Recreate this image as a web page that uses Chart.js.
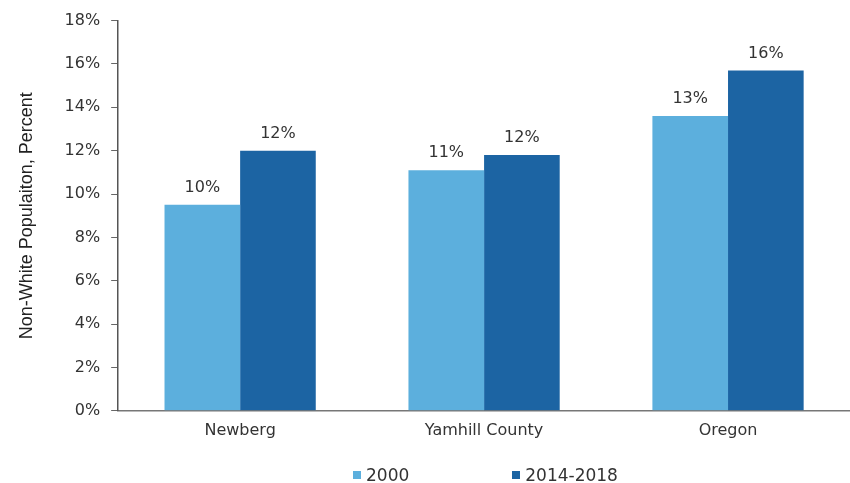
<!DOCTYPE html>
<html>
<head>
<meta charset="utf-8">
<script src="https://cdn.jsdelivr.net/npm/chart.js@4/dist/chart.umd.min.js"></script>
<style>
  html, body { margin: 0; padding: 0; background: #fff; }
  #wrap { position: relative; width: 850px; height: 483px; }
  #legend {
    position: absolute; left: 353px; top: 465px;
    display: flex; gap: 103px;
    font: 17px "DejaVu Sans", sans-serif; color: #333; line-height: 20px;
  }
  #legend span.item { display: flex; align-items: center; }
  #legend i { display: inline-block; width: 8px; height: 8px; margin-right: 5px; }
</style>
</head>
<body>
<div id="wrap">
  <canvas id="chart" width="850" height="483"></canvas>
  <div id="legend"></div>
</div>
<script>
// data
const categories = ["Newberg", "Yamhill County", "Oregon"];
const seriesNames = ["2000", "2014-2018"];
const values2000 = [9.5, 11.1, 13.6];
const values2014 = [12.0, 11.8, 15.7];
const labels2000 = ["10%", "11%", "13%"];
const labels2014 = ["12%", "12%", "16%"];
const colors = ["#5cafdd", "#1c64a3"];

const tickFont = { family: "'DejaVu Sans', sans-serif", size: 16 };

// value labels above the bars
const barLabels = {
  id: "barLabels",
  afterDatasetsDraw(chart) {
    const { ctx } = chart;
    const texts = [labels2000, labels2014];
    ctx.save();
    ctx.font = "16px 'DejaVu Sans', sans-serif";
    ctx.fillStyle = "#333";
    ctx.textAlign = "center";
    ctx.textBaseline = "middle";
    chart.data.datasets.forEach((ds, i) => {
      chart.getDatasetMeta(i).data.forEach((bar, j) => {
        ctx.fillText(texts[i][j], bar.x, bar.y - 17);
      });
    });
    ctx.restore();
  },
};

const chart = new Chart(document.getElementById("chart"), {
  type: "bar",
  data: {
    labels: categories,
    datasets: [
      { label: seriesNames[0], data: values2000, backgroundColor: colors[0] },
      { label: seriesNames[1], data: values2014, backgroundColor: colors[1] },
    ],
  },
  options: {
    responsive: false,
    animation: false,
    layout: { padding: { top: 20, left: 10, right: 0, bottom: 33 } },
    datasets: { bar: { categoryPercentage: 0.62, barPercentage: 1 } },
    plugins: {
      legend: { display: false },
      tooltip: { enabled: false },
    },
    scales: {
      x: {
        grid: { display: false, drawTicks: false },
        border: { display: true, color: "#777", width: 1.5 },
        ticks: { font: tickFont, color: "#333", padding: 10 },
      },
      y: {
        min: 0,
        max: 18,
        ticks: {
          stepSize: 2,
          font: tickFont,
          color: "#333",
          padding: 11,
          callback: (v) => v + "%",
        },
        grid: { drawOnChartArea: false, drawTicks: true, tickLength: 7, color: "#666" },
        border: { display: true, color: "#555", width: 1.5 },
        title: {
          display: true,
          text: "Non-White Populaiton, Percent",
          font: { family: "'Liberation Sans', Arial, sans-serif", size: 18 },
          color: "#222",
          padding: { top: 6, bottom: 16 },
        },
      },
    },
  },
  plugins: [barLabels],
});

// legend drawn as html so the wide gap between items can be kept
const legend = document.getElementById("legend");
seriesNames.forEach((name, i) => {
  const item = document.createElement("span");
  item.className = "item";
  item.innerHTML = '<i style="background:' + colors[i] + '"></i>' + name;
  legend.appendChild(item);
});
</script>
</body>
</html>
